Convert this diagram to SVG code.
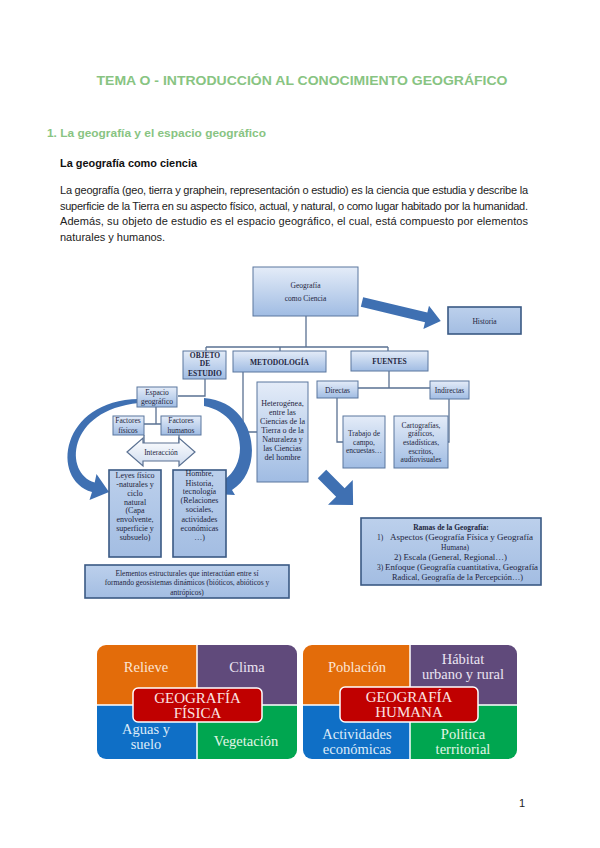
<svg xmlns="http://www.w3.org/2000/svg" width="600" height="848" viewBox="0 0 600 848">
<defs>
<linearGradient id="bx" x1="0" y1="0" x2="0" y2="1"><stop offset="0" stop-color="#e4ecf8"/><stop offset="1" stop-color="#a0bce3"/></linearGradient>
<linearGradient id="bx2" x1="0" y1="0" x2="0" y2="1"><stop offset="0" stop-color="#bcd0ec"/><stop offset="1" stop-color="#a3bde2"/></linearGradient>
<linearGradient id="ia" x1="0" y1="0" x2="0" y2="1"><stop offset="0" stop-color="#ffffff"/><stop offset="1" stop-color="#cfdcef"/></linearGradient>
<clipPath id="cl"><rect x="97" y="645" width="200" height="114" rx="9"/></clipPath>
<clipPath id="cr"><rect x="303" y="645" width="214" height="114" rx="9"/></clipPath>
<style>
.h{font-family:"Liberation Sans",Arial,sans-serif;font-weight:bold}
.p{font-family:"Liberation Sans",Arial,sans-serif;font-size:11px;fill:#222}
.b{fill:url(#bx);stroke:#5a779e;stroke-width:1}
.bd{fill:url(#bx2);stroke:#3a5984;stroke-width:1.6}
.t{font-family:"Liberation Serif","Times New Roman",serif;font-size:7.5px;fill:#1e2540;text-anchor:middle}
.t8{font-family:"Liberation Serif","Times New Roman",serif;font-size:8px;fill:#1e2540;text-anchor:middle}
.tb{font-family:"Liberation Serif","Times New Roman",serif;font-size:7.5px;font-weight:bold;fill:#1e2540;text-anchor:middle}
.tl{font-family:"Liberation Serif","Times New Roman",serif;font-size:7.5px;fill:#1e2540}
.c{fill:none;stroke:#5a7192;stroke-width:1.3}
.ar{fill:#3f70b2}
.q{font-family:"Liberation Serif","Times New Roman",serif;font-size:14.5px;text-anchor:middle}
.r{font-family:"Liberation Serif","Times New Roman",serif;font-size:15px;text-anchor:middle;fill:#fbe3e3}
</style>
</defs>
<rect width="600" height="848" fill="#ffffff"/>

<g id="header">
<text class="h" x="302" y="85" font-size="12.5" fill="#88c482" text-anchor="middle" textLength="411" lengthAdjust="spacingAndGlyphs">TEMA O - INTRODUCCIÓN AL CONOCIMIENTO GEOGRÁFICO</text>
<text class="h" x="47" y="137" font-size="11.5" fill="#88c482" textLength="219" lengthAdjust="spacingAndGlyphs">1. La geografía y el espacio geográfico</text>
<text class="h" x="60" y="167" font-size="11.5" fill="#111" textLength="137" lengthAdjust="spacingAndGlyphs">La geografía como ciencia</text>
<text class="p" x="60" y="194" textLength="468" lengthAdjust="spacing">La geografía (geo, tierra y graphein, representación o estudio) es la ciencia que estudia y describe la</text>
<text class="p" x="60" y="210" textLength="468" lengthAdjust="spacing">superficie de la Tierra en su aspecto físico, actual, y natural, o como lugar habitado por la humanidad.</text>
<text class="p" x="60" y="225" textLength="468" lengthAdjust="spacing">Además, su objeto de estudio es el espacio geográfico, el cual, está compuesto por elementos</text>
<text class="p" x="60" y="241">naturales y humanos.</text>
</g>

<g id="connectors">
<path class="c" d="M306,316 V347 M206,347 H388 M206,347 V351 M280,347 V351 M388,347 V351"/>
<path class="c" d="M205,379 V396 H178"/>
<path class="c" d="M156,407 V424 M144,424 H161"/>
<path class="c" d="M144,435 V443 M179,435 V443"/>
<path class="c" d="M243,372 V432 H257"/>
<path class="c" d="M389,371 V388 M358,388 H430"/>
<path class="c" d="M337,398 V442 H343"/>
<path class="c" d="M449,399 V442 H448"/>
<polygon class="ar" transform="translate(362,302) rotate(13.5)" points="0,-5 66,-5 66,-12 81,0 66,12 66,5 0,5"/>
<polygon class="ar" transform="translate(322,474) rotate(45)" points="0,-6 26,-6 26,-17.5 44,0 26,17.5 26,6 0,6"/>
<path class="ar" d="M139,399 C60,400 50,480 92,492 L89.5,500 L109,492 L96.5,474 L94.7,482.4 C64,474 66,410 139,403 Z"/>
<path class="ar" d="M204,398 C258,402 265,470 232,490 L235,495 L213,494 L221,473 L224,480 C250,462 245,414 204,406 Z"/>
<polygon fill="url(#ia)" stroke="#5a7192" stroke-width="1.2" points="127,452 143,438 143,443 179,443 179,438 195,452 179,466 179,461 143,461 143,466"/>
</g>

<g id="n-geografia"><rect class="b" x="253" y="267" width="105" height="49"/><text class="t" x="305.5" y="287.5">Geografía</text><text class="t" x="305.5" y="300.5">como Ciencia</text></g>
<g id="n-historia"><rect class="bd" x="448" y="307" width="73" height="27"/><text class="t" x="484.5" y="323.5">Historia</text></g>
<g id="n-objeto"><rect class="b" x="183" y="351" width="43" height="28"/><text class="tb" x="205" y="357.5">OBJETO</text><text class="tb" x="205" y="366">DE</text><text class="tb" x="205" y="376" fill="#17375e">ESTUDIO</text></g>
<g id="n-metodologia"><rect class="b" x="233" y="351" width="93" height="21"/><text class="tb" x="279.5" y="364.5" font-size="8">METODOLOGÍA</text></g>
<g id="n-fuentes"><rect class="b" x="351" y="351" width="77" height="20"/><text class="tb" x="389.5" y="363.5" font-size="8">FUENTES</text></g>
<g id="n-directas"><rect class="b" x="317" y="381" width="41" height="17"/><text class="t" x="337.5" y="392.5">Directas</text></g>
<g id="n-indirectas"><rect class="b" x="430" y="381" width="39" height="18"/><text class="t" x="449.5" y="392.5">Indirectas</text></g>
<g id="n-espacio"><rect class="b" x="137" y="387" width="40" height="20"/><text class="t" x="157" y="395" font-size="7">Espacio</text><text class="t" x="157" y="404" font-size="7">geográfico</text></g>
<g id="n-fisicos"><rect class="b" x="113" y="416" width="31" height="19"/><text class="t" x="128" y="423">Factores</text><text class="t" x="128" y="433">físicos</text></g>
<g id="n-humanos"><rect class="b" x="161" y="416" width="40" height="19"/><text class="t" x="181" y="423">Factores</text><text class="t" x="181" y="433">humanos</text></g>
<g id="n-interaccion"><text class="t" x="161" y="454.5">Interacción</text></g>
<g id="n-heterogenea"><rect class="b" x="257" y="382" width="51" height="100"/>
<text class="t8" x="282.5" y="405.5">Heterogénea,</text><text class="t8" x="282.5" y="414.5">entre las</text><text class="t8" x="282.5" y="423.5">Ciencias de la</text><text class="t8" x="282.5" y="432.5">Tierra o de la</text><text class="t8" x="282.5" y="441.5">Naturaleza y</text><text class="t8" x="282.5" y="450.5">las Ciencias</text><text class="t8" x="282.5" y="459.5">del hombre</text></g>
<g id="n-trabajo"><rect class="b" x="343" y="416" width="42" height="52"/><text class="t" x="364" y="435.5">Trabajo de</text><text class="t" x="364" y="444.5">campo,</text><text class="t" x="364" y="452.5">encuestas…</text></g>
<g id="n-cartografias"><rect class="b" x="394" y="416" width="54" height="52"/><text class="t" x="421" y="427.5">Cartografías,</text><text class="t" x="421" y="436">gráficos,</text><text class="t" x="421" y="445">estadísticas,</text><text class="t" x="421" y="453.5">escritos,</text><text class="t" x="421" y="461.5">audiovisuales</text></g>
<g id="n-leyes"><rect class="bd" x="109" y="470" width="52" height="87"/>
<text class="t8" x="135" y="477.5">Leyes físico</text><text class="t8" x="135" y="487">-naturales y</text><text class="t8" x="135" y="495.5">ciclo</text><text class="t8" x="135" y="504.5">natural</text><text class="t8" x="135" y="512.5">(Capa</text><text class="t8" x="135" y="522">envolvente,</text><text class="t8" x="135" y="531">superficie y</text><text class="t8" x="135" y="540">subsuelo)</text></g>
<g id="n-hombre"><rect class="bd" x="173" y="470" width="53" height="87"/>
<text class="t8" x="199.5" y="476">Hombre,</text><text class="t8" x="199.5" y="485.5">Historia,</text><text class="t8" x="199.5" y="494">tecnología</text><text class="t8" x="199.5" y="502.5">(Relaciones</text><text class="t8" x="199.5" y="512">sociales,</text><text class="t8" x="199.5" y="521.5">actividades</text><text class="t8" x="199.5" y="531">económicas</text><text class="t8" x="199.5" y="540">…)</text></g>
<g id="n-elementos"><rect class="bd" x="85" y="565" width="204" height="33"/>
<text class="t" x="187" y="575.5">Elementos estructurales que interactúan entre sí</text><text class="t" x="187" y="585">formando geosistemas dinámicos (bióticos, abióticos y</text><text class="t" x="187" y="594.5">antrópicos)</text></g>
<g id="n-ramas"><rect class="bd" x="361" y="518" width="180" height="67"/>
<text class="tb" x="451" y="529.5">Ramas de la Geografía:</text>
<text class="tl" x="377" y="539.5">1)</text><text class="tl" x="390" y="539.5" textLength="143" lengthAdjust="spacingAndGlyphs">Aspectos (Geografía Física y Geografía</text>
<text class="t" x="455" y="549.5">Humana)</text>
<text class="tl" x="394" y="559.5" textLength="113" lengthAdjust="spacingAndGlyphs">2)  Escala (General, Regional…)</text>
<text class="tl" x="377" y="569.5">3)</text><text class="tl" x="385" y="569.5" textLength="153" lengthAdjust="spacingAndGlyphs">Enfoque (Geografía cuantitativa, Geografía</text>
<text class="tl" x="392" y="579.5" textLength="131" lengthAdjust="spacingAndGlyphs">Radical, Geografía de la Percepción…)</text></g>

<g id="n-geo-fisica">
<g clip-path="url(#cl)">
<rect x="97" y="645" width="100" height="60" fill="#e36c0a"/>
<rect x="197" y="645" width="100" height="60" fill="#604a7b"/>
<rect x="97" y="705" width="100" height="54" fill="#0f6fc6"/>
<rect x="197" y="705" width="100" height="54" fill="#00a650"/>
<path d="M197,645 V759 M97,705 H297" stroke="#fff" stroke-width="1.5"/>
</g>
<text class="q" x="146" y="672" fill="#fbe5d5">Relieve</text>
<text class="q" x="247" y="672" fill="#ebe4f2">Clima</text>
<text class="q" x="146" y="734" fill="#deebf8">Aguas y</text>
<text class="q" x="146" y="749" fill="#deebf8">suelo</text>
<text class="q" x="246" y="746" fill="#e3f6e7">Vegetación</text>
<rect x="133" y="688" width="129" height="34" rx="5" fill="#c00000" stroke="#fff" stroke-width="1.5"/>
<text class="r" x="197.5" y="703">GEOGRAFÍA</text>
<text class="r" x="197.5" y="718">FÍSICA</text>
</g>

<g id="n-geo-humana">
<g clip-path="url(#cr)">
<rect x="303" y="645" width="107" height="60" fill="#e36c0a"/>
<rect x="410" y="645" width="107" height="60" fill="#604a7b"/>
<rect x="303" y="705" width="107" height="54" fill="#0f6fc6"/>
<rect x="410" y="705" width="107" height="54" fill="#00a650"/>
<path d="M410,645 V759 M303,705 H517" stroke="#fff" stroke-width="1.5"/>
</g>
<text class="q" x="357" y="672" fill="#fbe5d5">Población</text>
<text class="q" x="463" y="664" fill="#ebe4f2">Hábitat</text>
<text class="q" x="463" y="679" fill="#ebe4f2">urbano y rural</text>
<text class="q" x="357" y="739" fill="#deebf8">Actividades</text>
<text class="q" x="357" y="754" fill="#deebf8">económicas</text>
<text class="q" x="463" y="739" fill="#e3f6e7">Política</text>
<text class="q" x="463" y="754" fill="#e3f6e7">territorial</text>
<rect x="340" y="687" width="138" height="35" rx="5" fill="#c00000" stroke="#fff" stroke-width="1.5"/>
<text class="r" x="409" y="702">GEOGRAFÍA</text>
<text class="r" x="409" y="717">HUMANA</text>
</g>

<text x="522" y="807" font-family="Liberation Sans,Arial,sans-serif" font-size="11" fill="#222" text-anchor="middle">1</text>
</svg>
